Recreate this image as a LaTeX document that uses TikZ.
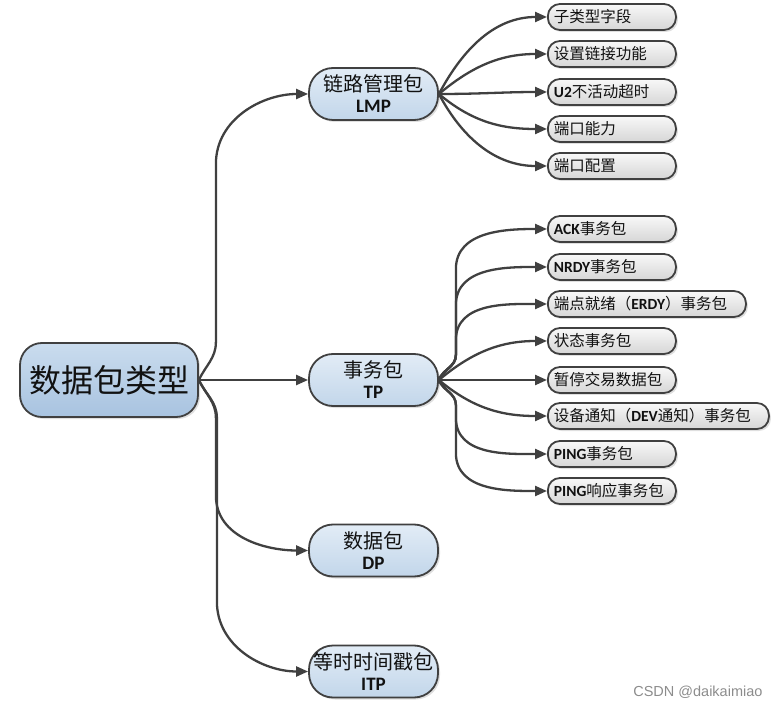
\documentclass[tikz,border=0pt]{standalone}
\usepackage{fontspec}
\setmainfont{Carlito}
\newfontfamily\cjk{Noto Sans CJK SC}
\newfontfamily\wmfont{Liberation Sans}
\usetikzlibrary{arrows.meta,calc,shadows}
\definecolor{edgec}{HTML}{404040}
\definecolor{rootT}{HTML}{CADCEE}
\definecolor{rootB}{HTML}{A8C3E0}
\definecolor{midT}{HTML}{E2ECF6}
\definecolor{midB}{HTML}{C2D6EA}
\definecolor{leafT}{HTML}{F8F8F8}
\definecolor{leafB}{HTML}{D6D6D6}
\definecolor{txt}{HTML}{111111}
\definecolor{wmc}{HTML}{8C8C8C}
\newcommand\zhtxt[1]{{\cjk #1}}
\tikzset{
  conn/.style={draw=edgec, line width=2.3pt, -{Triangle[length=12pt,width=10pt]}},
  box/.style={draw=edgec, line width=1.8pt, text=txt,
    drop shadow={shadow xshift=2pt,shadow yshift=-2pt,opacity=0.25,fill=black!50}},
  rootbox/.style={box, rounded corners=22pt, minimum width=178pt, minimum height=74pt,
    top color=rootT, bottom color=rootB, font=\cjk\fontsize{32}{36}\selectfont, inner sep=0pt},
  midbox/.style={box, rounded corners=24pt, minimum width=129pt, minimum height=52pt,
    top color=midT, bottom color=midB, align=center, inner sep=0pt,
    font=\bfseries\fontsize{19}{22}\selectfont},
  leaf/.style={box, rounded corners=12pt, minimum height=26pt, top color=leafT, bottom color=leafB,
    anchor=west, align=left, inner xsep=6pt, inner ysep=0pt, text width=#1,
    font=\bfseries\fontsize{15.5}{16}\selectfont},
  leaf/.default=116pt,
}
\newcommand\midlabel[2]{{\mdseries\cjk\fontsize{20}{22}\selectfont #1}\\[-1pt]#2}
\newcommand\lz[1]{{\mdseries\cjk\fontsize{15.5}{16}\selectfont #1}}
\begin{document}
\begin{tikzpicture}[x=1pt,y=1pt]
\useasboundingbox (0,0) rectangle (779,-708);
% root
\node[rootbox] (root) at (109,-380) {数据包类型};
% level 1
\node[midbox] (LMP) at (373.5,-94) {\midlabel{链路管理包}{LMP}};
\node[midbox] (TP)  at (373.5,-380) {\midlabel{事务包}{TP}};
\node[midbox] (DP)  at (373.5,-550.5) {\midlabel{数据包}{DP}};
\node[midbox] (ITP) at (373.5,-671.5) {\midlabel{等时时间戳包}{ITP}};
% LMP leaves
\node[leaf] (l1) at (547,-17)  {\lz{子类型字段}};
\node[leaf] (l2) at (547,-54)  {\lz{设置链接功能}};
\node[leaf] (l3) at (547,-92)  {U2\lz{不活动超时}};
\node[leaf] (l4) at (547,-129) {\lz{端口能力}};
\node[leaf] (l5) at (547,-166) {\lz{端口配置}};
% TP leaves
\node[leaf] (t1) at (547,-229) {ACK\lz{事务包}};
\node[leaf] (t2) at (547,-267) {NRDY\lz{事务包}};
\node[leaf=186pt] (t3) at (547,-304) {\lz{端点就绪（}ERDY\lz{）事务包}};
\node[leaf] (t4) at (547,-341) {\lz{状态事务包}};
\node[leaf] (t5) at (547,-380) {\lz{暂停交易数据包}};
\node[leaf=209pt] (t6) at (547,-416) {\lz{设备通知（}DEV\lz{通知）事务包}};
\node[leaf] (t7) at (547,-454) {PING\lz{事务包}};
\node[leaf] (t8) at (547,-491) {PING\lz{响应事务包}};
% root edges
\draw[conn] (root.east) to[out=65,in=-90] ($(root.east)+(17,38)$)
  -- ($(LMP.west -| root.east)+(17,-70)$) to[out=90,in=180] (LMP.west);
\draw[conn] (root.east) -- (TP.west);
\draw[conn] (root.east) to[out=-65,in=90] ($(root.east)+(17,-38)$)
  -- ($(DP.west -| root.east)+(17,55)$) to[out=-90,in=180] (DP.west);
\draw[conn] (root.east) to[out=-65,in=90] ($(root.east)+(18,-38)$)
  -- ($(ITP.west -| root.east)+(18,70)$) to[out=-90,in=180] (ITP.west);
% LMP edges
\draw[conn] (LMP.east) to[out=62,in=180] (l1.west);
\draw[conn] (LMP.east) to[out=40,in=180] (l2.west);
\draw[conn] (LMP.east) to[out=0,in=180] (l3.west);
\draw[conn] (LMP.east) to[out=-40,in=180] (l4.west);
\draw[conn] (LMP.east) to[out=-62,in=180] (l5.west);
% TP edges
\draw[conn] (TP.east) to[out=70,in=-90] ($(TP.east)+(17,25)$)
  -- ($(t1.west -| TP.east)+(17,-40)$) to[out=90,in=180] (t1.west);
\draw[conn] (TP.east) to[out=70,in=-90] ($(TP.east)+(17,25)$)
  -- ($(t2.west -| TP.east)+(17,-38)$) to[out=90,in=180] (t2.west);
\draw[conn] (TP.east) to[out=65,in=-90] ($(TP.east)+(17,25)$)
  -- ($(t3.west -| TP.east)+(17,-36)$) to[out=90,in=180] (t3.west);
\draw[conn] (TP.east) to[out=40,in=180] (t4.west);
\draw[conn] (TP.east) -- (t5.west);
\draw[conn] (TP.east) to[out=-40,in=180] (t6.west);
\draw[conn] (TP.east) to[out=-65,in=90] ($(TP.east)+(17,-25)$)
  -- ($(t7.west -| TP.east)+(17,36)$) to[out=-90,in=180] (t7.west);
\draw[conn] (TP.east) to[out=-70,in=90] ($(TP.east)+(17,-25)$)
  -- ($(t8.west -| TP.east)+(17,38)$) to[out=-90,in=180] (t8.west);
% watermark
\node[text=wmc, font=\wmfont\fontsize{14.5}{16}\selectfont, anchor=east] (wm) at (766,-692) {CSDN @daikaimiao};
\end{tikzpicture}
\end{document}
